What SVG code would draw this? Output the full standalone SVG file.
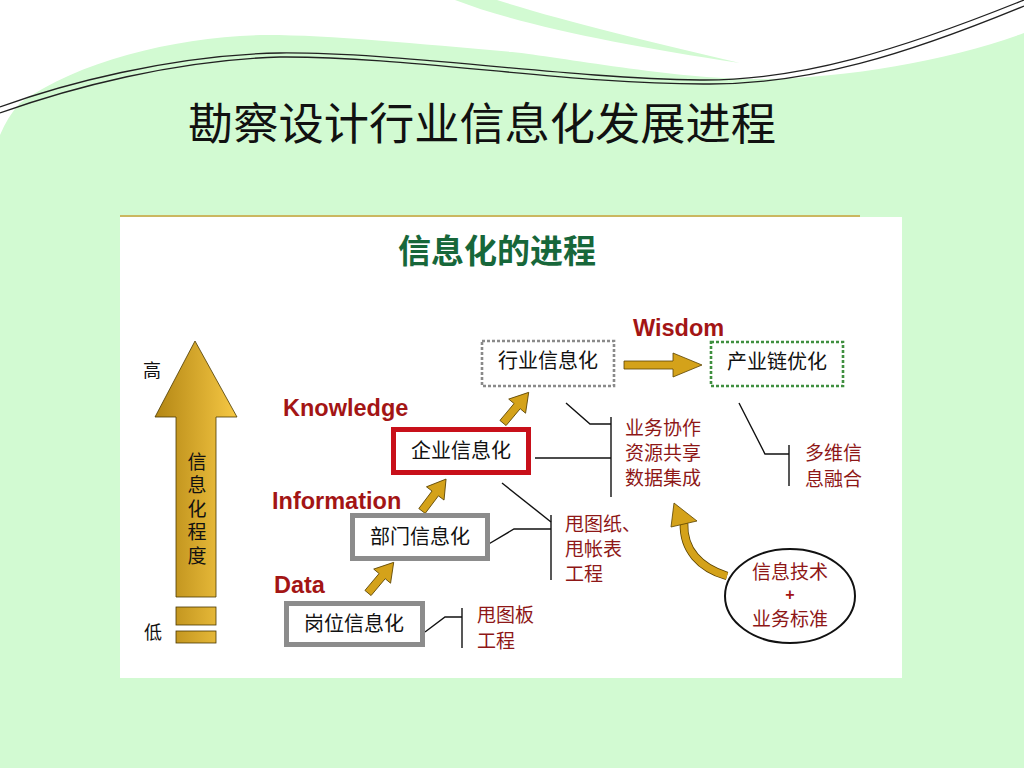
<svg xmlns="http://www.w3.org/2000/svg" width="1024" height="768" viewBox="0 0 1024 768">
<style>
.cjk{font-family:"Noto Sans CJK SC","Noto Sans",sans-serif;}
.node{fill:#111;font-size:20px;text-anchor:middle;}
.side{fill:#8e1717;font-size:19px;}
.lbl{font-family:"Liberation Sans",Arial,sans-serif;font-weight:bold;font-size:23.5px;fill:#a31515;}
.conn{fill:none;stroke:#111;stroke-width:1.4;}
.gold{fill:#d4a21a;stroke:#5a4200;stroke-width:0.8;}
.wave{fill:none;stroke:#222;stroke-width:1.3;}
</style>
<defs>
<linearGradient id="gg" gradientUnits="userSpaceOnUse" x1="155" y1="0" x2="237" y2="0">
<stop offset="0" stop-color="#b38614"/>
<stop offset="1" stop-color="#f6c844"/>
</linearGradient>
<path id="sa" d="M0,-4 L22,-4 L22,-11 L40,0 L22,11 L22,4 L0,4 Z"/>
</defs>
<!-- background -->
<rect x="0" y="0" width="1024" height="768" fill="#d2fad2"/>
<path d="M0,0 H1024 V33 C950,60 850,78 760,79 C680,80 560,57 512,52 C420,44 330,35 267,35 C180,36 80,60 20,103 Q8,116 0,135 Z" fill="#ffffff"/>
<path d="M455,0 C520,25 620,45 740,63 C650,42 560,20 497,0 Z" fill="#d2fad2"/>
<path class="wave" d="M0,107 C60,85 170,55 280,53 C400,52 560,78 700,80 C800,81 900,50 1024,0"/>
<path class="wave" d="M0,113 C70,88 175,60 280,57 C410,56 570,85 710,84 C810,84 905,55 1024,6"/>
<text class="cjk" x="188" y="140" font-size="44" textLength="588" lengthAdjust="spacingAndGlyphs" fill="#111">勘察设计行业信息化发展进程</text>
<!-- panel -->
<rect x="120" y="217" width="782" height="461" fill="#ffffff"/>
<line x1="120" y1="216" x2="860" y2="216" stroke="#c9a03a" stroke-width="1.6"/>
<text class="cjk" x="497" y="263" font-size="33" font-weight="bold" fill="#17673a" text-anchor="middle">信息化的进程</text>
<!-- big arrow -->
<g id="scale-arrow">
<path d="M195,341 L237,417 L216,417 L216,597 L176,597 L176,417 L155,417 Z" fill="url(#gg)" stroke="#4a3800" stroke-width="0.8"/>
<rect x="176" y="607" width="40" height="18" fill="url(#gg)" stroke="#4a3800" stroke-width="0.8"/>
<rect x="176" y="631" width="40" height="12" fill="url(#gg)" stroke="#4a3800" stroke-width="0.8"/>
<text class="cjk" x="197" y="452" font-size="19" fill="#111" writing-mode="tb" letter-spacing="4.5">信息化程度</text>
<text class="cjk" x="143" y="377" font-size="18" fill="#111">高</text>
<text class="cjk" x="144" y="639" font-size="18" fill="#111">低</text>
</g>
<!-- connectors -->
<g id="connectors">
<use href="#sa" class="gold" transform="translate(368,593) rotate(-50)"/>
<use href="#sa" class="gold" transform="translate(422,511) rotate(-53)"/>
<use href="#sa" class="gold" transform="translate(503,423) rotate(-50)"/>
<path class="gold" d="M624,361 L673,361 L673,353 L702,365 L673,377 L673,369 L624,369 Z"/>
<path d="M727,576 C700,568 683,550 684,523" fill="none" stroke="#5a4200" stroke-width="8.6"/>
<path d="M727,576 C700,568 683,550 684,523" fill="none" stroke="#d4a21a" stroke-width="7"/>
<path class="gold" d="M674,503 L697,521 L671,527 Z"/>
<polyline class="conn" points="566,403 590,424 611,424"/>
<line class="conn" x1="611" y1="417" x2="611" y2="497"/>
<line class="conn" x1="535" y1="458" x2="611" y2="458"/>
<polyline class="conn" points="502,483 551,522"/>
<polyline class="conn" points="487,545 514,529 551,529"/>
<line class="conn" x1="551" y1="515" x2="551" y2="580"/>
<polyline class="conn" points="425,632 445,617 462,617"/>
<line class="conn" x1="462" y1="608" x2="462" y2="648"/>
<polyline class="conn" points="739,403 765,454 789,454"/>
<line class="conn" x1="789" y1="445" x2="789" y2="486"/>
</g>
<!-- level labels -->
<text class="lbl" x="633" y="336">Wisdom</text>
<text class="lbl" x="283" y="416">Knowledge</text>
<text class="lbl" x="272" y="509">Information</text>
<text class="lbl" x="274" y="593">Data</text>
<!-- nodes -->
<g id="node-industry">
<rect x="482" y="341" width="132" height="45" fill="#fff" stroke="#8a8a8a" stroke-width="2.6" stroke-dasharray="3,2"/>
<text class="cjk node" x="548" y="368">行业信息化</text>
</g>
<g id="node-chain">
<rect x="711" y="342" width="132" height="44" fill="#fff" stroke="#3f8f3f" stroke-width="2.6" stroke-dasharray="3,2"/>
<text class="cjk node" x="777" y="369">产业链优化</text>
</g>
<g id="node-enterprise">
<rect x="393.5" y="429.5" width="135" height="43" fill="#fff" stroke="#c8101a" stroke-width="5"/>
<text class="cjk node" x="461" y="458">企业信息化</text>
</g>
<g id="node-dept">
<rect x="352.5" y="515.5" width="135" height="43" fill="#fff" stroke="#8c8c8c" stroke-width="5"/>
<text class="cjk node" x="420" y="544">部门信息化</text>
</g>
<g id="node-post">
<rect x="286.5" y="603.5" width="136" height="41" fill="#fff" stroke="#8c8c8c" stroke-width="5"/>
<text class="cjk node" x="354" y="631">岗位信息化</text>
</g>
<g id="note-enterprise" class="cjk side">
<text x="625" y="435">业务协作</text>
<text x="625" y="460">资源共享</text>
<text x="625" y="485">数据集成</text>
</g>
<g id="note-dept" class="cjk side">
<text x="565" y="531">甩图纸、</text>
<text x="565" y="556">甩帐表</text>
<text x="565" y="581">工程</text>
</g>
<g id="note-post" class="cjk side">
<text x="477" y="622">甩图板</text>
<text x="477" y="648">工程</text>
</g>
<g id="note-chain" class="cjk side">
<text x="805" y="460">多维信</text>
<text x="805" y="486">息融合</text>
</g>
<g id="node-it">
<ellipse cx="790" cy="596" rx="65" ry="47" fill="#fff" stroke="#111" stroke-width="2"/>
<text class="cjk side" text-anchor="middle"><tspan x="790" y="579">信息技术</tspan><tspan x="790" y="600" font-family="Liberation Sans,sans-serif" font-weight="bold" font-size="16" fill="#a31515">+</tspan><tspan x="790" y="626">业务标准</tspan></text>
</g>
</svg>
